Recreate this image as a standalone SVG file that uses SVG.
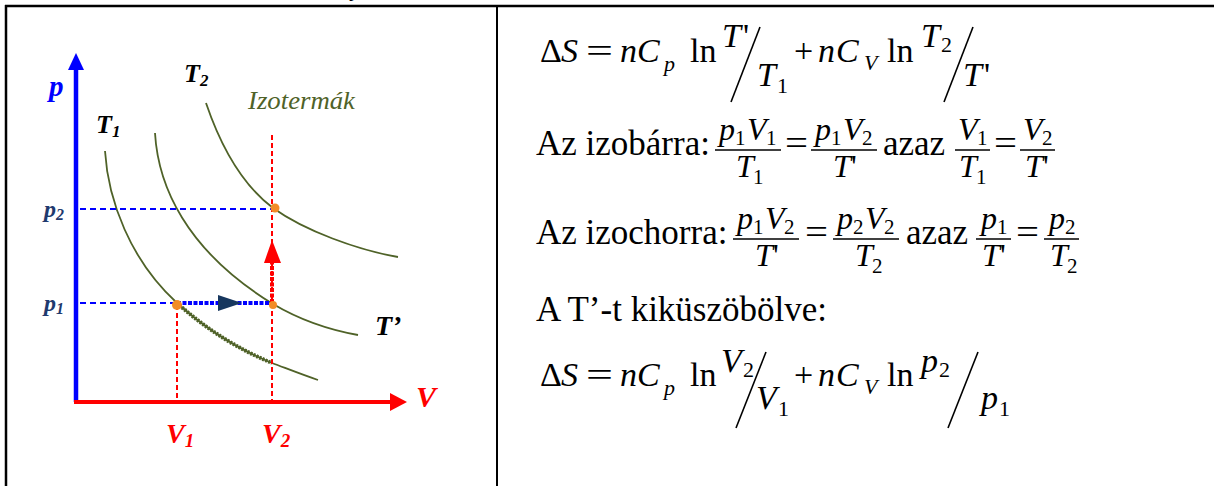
<svg xmlns="http://www.w3.org/2000/svg" width="1214" height="486" viewBox="0 0 1214 486">
<style>
text{font-family:'Liberation Serif','Times New Roman',serif}
.t{font-size:35px;fill:#000}
.m text{font-size:34px;fill:#000}
.f{font-size:32px;fill:#000}
.m text.s{font-size:22px}
.fs{font-size:21px}
.i{font-style:italic}
.lb{font-weight:bold;font-style:italic}
.iso{fill:none;stroke:#4F6228;stroke-width:1.8}
.rdash{stroke:#FF0000;stroke-width:2;stroke-dasharray:5 3;fill:none}
.bdash{stroke:#0000FF;stroke-width:2;stroke-dasharray:6 4;fill:none}
.bar{stroke:#000;stroke-width:1.3}
.sl{stroke:#000;stroke-width:1.6}
.dot{fill:#F28C28}
</style>
<rect x="0" y="0" width="1214" height="486" fill="#fff"/>
<g id="table">
<text x="349" y="-4" font-size="22" font-weight="bold">y</text>
<line x1="5" y1="6" x2="1214" y2="6" stroke="#000" stroke-width="2.5"/>
<line x1="6" y1="5" x2="6" y2="486" stroke="#000" stroke-width="2.5"/>
<line x1="497" y1="6" x2="497" y2="486" stroke="#000" stroke-width="2"/>
</g>
<g id="isotherms">
<path id="T1curve" class="iso" d="M105,151 C108,200 130,260 177,303 C207,330 240,350 272,363 C288,369 303,375 318,380"/>
<path id="Tpcurve" class="iso" d="M155,133 C158,185 185,250 273,304 C300,320 330,330 358,335"/>
<path id="T2curve" class="iso" d="M206,103 C222,150 245,187 273,208 C305,231 358,250 398,257"/>
<path d="M177,303 C207,330 240,350 272,363" fill="none" stroke="#4F6228" stroke-width="4" stroke-dasharray="2 1.3"/>
</g>
<g id="connectors">
<line class="rdash" x1="177" y1="305" x2="177" y2="400"/>
<line class="rdash" x1="272" y1="135" x2="272" y2="400"/>
<line class="bdash" x1="80" y1="209" x2="272" y2="209"/>
<line class="bdash" x1="80" y1="303" x2="177" y2="303"/>
<line x1="177" y1="303" x2="272" y2="303" stroke="#0000FF" stroke-width="4" stroke-dasharray="4 1.5"/>
<polygon points="242,303 218,295 218,311" fill="#17375E"/>
<line x1="272" y1="303" x2="272" y2="262" stroke="#FF0000" stroke-width="4" stroke-dasharray="4 1.5"/>
<polygon points="272,240 264,263 281,263" fill="#FF0000"/>
<line x1="76" y1="402" x2="76" y2="68" stroke="#0000FF" stroke-width="4.5"/>
<polygon points="76,53 68,70 84,70" fill="#0000FF"/>
<line x1="74" y1="402" x2="392" y2="402" stroke="#FF0000" stroke-width="4"/>
<polygon points="407,402 390,393 390,411" fill="#FF0000"/>
</g>
<g id="points">
<circle class="dot" cx="177" cy="305" r="5"/>
<circle class="dot" cx="273" cy="305" r="4"/>
<circle class="dot" cx="275" cy="208" r="4.5"/>
</g>
<g id="diagram-labels">
<text class="lb" x="49" y="96" font-size="29" fill="#0000FF">p</text>
<text class="lb" x="184" y="82" font-size="26" fill="#000">T<tspan font-size="17" dy="4">2</tspan></text>
<text class="lb" x="96" y="133" font-size="26" fill="#000">T<tspan font-size="17" dy="4">1</tspan></text>
<text class="i" x="248" y="109" font-size="25" fill="#4F6228" textLength="107" lengthAdjust="spacingAndGlyphs">Izotermák</text>
<text class="lb" x="44" y="217" font-size="24" fill="#1F3A6E">p<tspan font-size="16" dy="3">2</tspan></text>
<text class="lb" x="44" y="311" font-size="24" fill="#1F3A6E">p<tspan font-size="16" dy="3">1</tspan></text>
<text class="lb" x="375" y="335" font-size="28" fill="#000">T’</text>
<text class="lb" x="416" y="407" font-size="30" fill="#FF0000">V</text>
<text class="lb" x="166" y="443" font-size="28" fill="#FF0000">V<tspan font-size="19" dy="4">1</tspan></text>
<text class="lb" x="262" y="443" font-size="28" fill="#FF0000">V<tspan font-size="19" dy="4">2</tspan></text>
</g>
<g id="eq1" class="m">
<text x="540" y="62">Δ</text>
<text class="i" x="561" y="62">S</text>
<text x="586" y="62" textLength="27" lengthAdjust="spacingAndGlyphs">=</text>
<text class="i" x="620" y="62">n</text>
<text class="i" x="637" y="62">C</text>
<text class="i s" x="664" y="71">p</text>
<text x="690" y="62">ln</text>
<text class="i" x="722" y="47">T</text>
<text x="743" y="47">'</text>
<line class="sl" x1="731" y1="102" x2="760" y2="27"/>
<text class="i" x="757" y="86">T</text>
<text class="s" x="777" y="93">1</text>
<text x="794" y="62">+</text>
<text class="i" x="818" y="62">n</text>
<text class="i" x="836" y="62">C</text>
<text class="i s" x="864" y="70">V</text>
<text x="887" y="62">ln</text>
<text class="i" x="921" y="47">T</text>
<text class="s" x="941" y="52">2</text>
<line class="sl" x1="944" y1="102" x2="973" y2="27"/>
<text class="i" x="963" y="86">T</text>
<text x="984" y="86">'</text>
</g>
<g id="eq2">
<text class="t" x="536" y="155">Az izobárra:</text>
<text class="f i" x="719" y="140">p</text><text class="fs" x="735" y="145">1</text><text class="f i" x="747" y="140">V</text><text class="fs" x="766" y="145">1</text>
<line class="bar" x1="715" y1="150" x2="781" y2="150"/>
<text class="f i" x="736" y="177">T</text><text class="fs" x="753" y="184">1</text>
<text class="t" x="785" y="155" textLength="23" lengthAdjust="spacingAndGlyphs">=</text>
<text class="f i" x="815" y="140">p</text><text class="fs" x="831" y="145">1</text><text class="f i" x="843" y="140">V</text><text class="fs" x="862" y="145">2</text>
<line class="bar" x1="811" y1="150" x2="877" y2="150"/>
<text class="f i" x="833" y="177">T</text><text class="f" x="851" y="177">'</text>
<text class="t" x="883" y="155">azaz</text>
<text class="f i" x="958" y="140">V</text><text class="fs" x="977" y="145">1</text>
<line class="bar" x1="955" y1="150" x2="990" y2="150"/>
<text class="f i" x="959" y="177">T</text><text class="fs" x="976" y="184">1</text>
<text class="t" x="994" y="155" textLength="23" lengthAdjust="spacingAndGlyphs">=</text>
<text class="f i" x="1023" y="140">V</text><text class="fs" x="1042" y="145">2</text>
<line class="bar" x1="1020" y1="150" x2="1055" y2="150"/>
<text class="f i" x="1025" y="177">T</text><text class="f" x="1043" y="177">'</text>
</g>
<g id="eq3">
<text class="t" x="536" y="244">Az izochorra:</text>
<text class="f i" x="737" y="229">p</text><text class="fs" x="753" y="234">1</text><text class="f i" x="765" y="229">V</text><text class="fs" x="784" y="234">2</text>
<line class="bar" x1="733" y1="239" x2="799" y2="239"/>
<text class="f i" x="755" y="266">T</text><text class="f" x="773" y="266">'</text>
<text class="t" x="805" y="244" textLength="23" lengthAdjust="spacingAndGlyphs">=</text>
<text class="f i" x="837" y="229">p</text><text class="fs" x="853" y="234">2</text><text class="f i" x="865" y="229">V</text><text class="fs" x="884" y="234">2</text>
<line class="bar" x1="833" y1="239" x2="899" y2="239"/>
<text class="f i" x="855" y="266">T</text><text class="fs" x="872" y="273">2</text>
<text class="t" x="906" y="244">azaz</text>
<text class="f i" x="981" y="229">p</text><text class="fs" x="997" y="234">1</text>
<line class="bar" x1="976" y1="239" x2="1011" y2="239"/>
<text class="f i" x="982" y="266">T</text><text class="f" x="1000" y="266">'</text>
<text class="t" x="1016" y="244" textLength="23" lengthAdjust="spacingAndGlyphs">=</text>
<text class="f i" x="1049" y="229">p</text><text class="fs" x="1065" y="234">2</text>
<line class="bar" x1="1044" y1="239" x2="1079" y2="239"/>
<text class="f i" x="1050" y="266">T</text><text class="fs" x="1067" y="273">2</text>
</g>
<g id="line4">
<text class="t" x="536" y="321">A T’-t kiküszöbölve:</text>
</g>
<g id="eq5" class="m">
<text x="540" y="386">Δ</text>
<text class="i" x="561" y="386">S</text>
<text x="586" y="386" textLength="27" lengthAdjust="spacingAndGlyphs">=</text>
<text class="i" x="620" y="386">n</text>
<text class="i" x="637" y="386">C</text>
<text class="i s" x="664" y="395">p</text>
<text x="690" y="386">ln</text>
<text class="i" x="721" y="372">V</text>
<text class="s" x="743" y="377">2</text>
<line class="sl" x1="736" y1="428" x2="766" y2="352"/>
<text class="i" x="756" y="409">V</text>
<text class="s" x="778" y="416">1</text>
<text x="794" y="386">+</text>
<text class="i" x="818" y="386">n</text>
<text class="i" x="836" y="386">C</text>
<text class="i s" x="864" y="394">V</text>
<text x="887" y="386">ln</text>
<text class="i" x="921" y="372">p</text>
<text class="s" x="939" y="377">2</text>
<line class="sl" x1="948" y1="428" x2="978" y2="352"/>
<text class="i" x="981" y="409">p</text>
<text class="s" x="999" y="416">1</text>
</g>
</svg>
